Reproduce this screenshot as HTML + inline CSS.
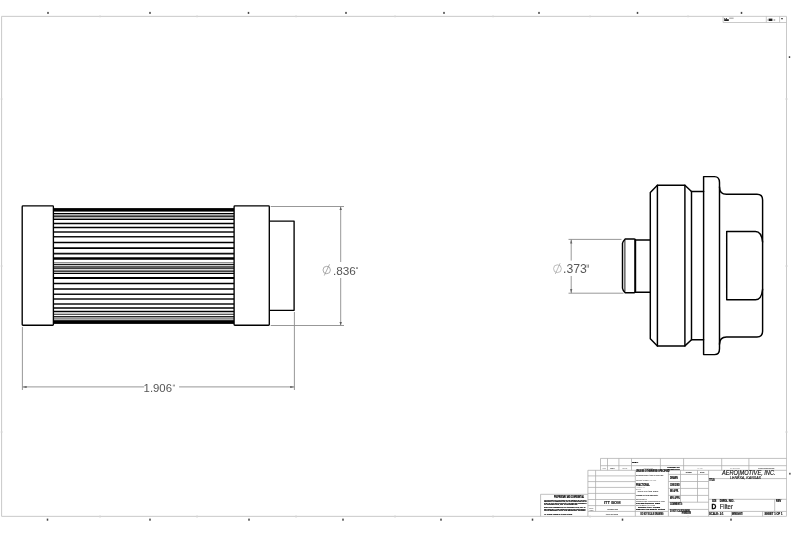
<!DOCTYPE html>
<html><head><meta charset="utf-8"><title>Filter drawing</title>
<style>
html,body{margin:0;padding:0;background:#fff;}
body{width:800px;height:534px;overflow:hidden;font-family:"Liberation Sans",sans-serif;}
svg{display:block;position:absolute;left:0;top:0;filter:grayscale(1);}
text{font-family:"Liberation Sans",sans-serif;}
</style></head><body>
<svg width="800" height="534" viewBox="0 0 800 534">
<rect x="0" y="0" width="800" height="534" fill="#ffffff"/>
<g opacity="0.999">

<g fill="none" stroke="#c6c6c6" stroke-width="0.95">
<path d="M1.6 516.35 V16.35 H786.5 V516.35 Z"/>
</g>
<g stroke="#d8d8d8" stroke-width="0.8">
<line x1="100" y1="15" x2="100" y2="17.5"/>
<line x1="100" y1="515" x2="100" y2="518"/>
<line x1="197" y1="15" x2="197" y2="17.5"/>
<line x1="197" y1="515" x2="197" y2="518"/>
<line x1="296" y1="15" x2="296" y2="17.5"/>
<line x1="296" y1="515" x2="296" y2="518"/>
<line x1="395" y1="15" x2="395" y2="17.5"/>
<line x1="395" y1="515" x2="395" y2="518"/>
<line x1="493" y1="15" x2="493" y2="17.5"/>
<line x1="493" y1="515" x2="493" y2="518"/>
<line x1="590" y1="15" x2="590" y2="17.5"/>
<line x1="590" y1="515" x2="590" y2="518"/>
<line x1="688" y1="15" x2="688" y2="17.5"/>
<line x1="688" y1="515" x2="688" y2="518"/>
<line x1="0.5" y1="99" x2="3" y2="99"/>
<line x1="785" y1="99" x2="788" y2="99"/>
<line x1="0.5" y1="266" x2="3" y2="266"/>
<line x1="785" y1="266" x2="788" y2="266"/>
<line x1="0.5" y1="432" x2="3" y2="432"/>
<line x1="785" y1="432" x2="788" y2="432"/>
</g>
<g fill="#444">
<rect x="47.25" y="11.9" width="1.5" height="2.0"/>
<rect x="149.25" y="11.9" width="1.5" height="2.0"/>
<rect x="247.75" y="11.9" width="1.5" height="2.0"/>
<rect x="345.25" y="11.9" width="1.5" height="2.0"/>
<rect x="443.25" y="11.9" width="1.5" height="2.0"/>
<rect x="538.25" y="11.9" width="1.5" height="2.0"/>
<rect x="636.75" y="11.9" width="1.5" height="2.0"/>
<rect x="740.75" y="11.9" width="1.5" height="2.0"/>
<rect x="46.75" y="518.6" width="1.5" height="2.1"/>
<rect x="149.25" y="518.6" width="1.5" height="2.1"/>
<rect x="248.25" y="518.6" width="1.5" height="2.1"/>
<rect x="342.25" y="518.6" width="1.5" height="2.1"/>
<rect x="440.25" y="518.6" width="1.5" height="2.1"/>
<rect x="531.75" y="518.6" width="1.5" height="2.1"/>
<rect x="621.75" y="518.6" width="1.5" height="2.1"/>
<rect x="730.25" y="518.6" width="1.5" height="2.1"/>
<rect x="788.8" y="56.2" width="1.4" height="1.8"/>
<rect x="789.2" y="472.8" width="1.4" height="1.8"/>
</g>
<g fill="none" stroke="#bdbdbd" stroke-width="0.8">
<path d="M723.1 16.3 V22.5 H786.5 M766.3 16.3 V22.5 M779.6 16.3 V22.5"/>
</g>
<g fill="#222"><rect x="724.2" y="19.2" width="4.6" height="1.8"/><rect x="724.4" y="18" width="0.8" height="1.4"/><rect x="726.2" y="18" width="0.8" height="1.4"/><rect x="768.6" y="18.6" width="3.8" height="2.4"/><rect x="781" y="18.3" width="2" height="0.9"/></g>
<g fill="#aaa"><rect x="729.2" y="17.6" width="4.4" height="1.2"/><rect x="767.4" y="19.4" width="1" height="1.2"/><rect x="773.6" y="19.2" width="1.6" height="1.6"/></g>
<g>
<rect x="53.4" y="213.6" width="180.7" height="2.6" fill="#ececec"/>
<rect x="53.4" y="216.2" width="180.7" height="3.2" fill="#bcbcbc"/>
<rect x="53.4" y="265.7" width="180.7" height="2.8" fill="#606060"/>
<rect x="53.4" y="318.2" width="180.7" height="2.2" fill="#b0b0b0"/>
<rect x="53.4" y="208.1" width="180.7" height="3.5" fill="#000"/>
<rect x="53.4" y="320.2" width="180.7" height="3.7" fill="#000"/>
<line x1="53.4" y1="213.6" x2="234.1" y2="213.6" stroke="#000" stroke-width="1.2"/>
<line x1="53.4" y1="216.2" x2="234.1" y2="216.2" stroke="#000" stroke-width="1.2"/>
<line x1="53.4" y1="219.4" x2="234.1" y2="219.4" stroke="#000" stroke-width="1.4"/>
<line x1="53.4" y1="223.5" x2="234.1" y2="223.5" stroke="#000" stroke-width="1.5"/>
<line x1="53.4" y1="227.6" x2="234.1" y2="227.6" stroke="#000" stroke-width="1.5"/>
<line x1="53.4" y1="231.9" x2="234.1" y2="231.9" stroke="#111" stroke-width="1.5"/>
<line x1="53.4" y1="236.8" x2="234.1" y2="236.8" stroke="#111" stroke-width="1.5"/>
<line x1="53.4" y1="242.6" x2="234.1" y2="242.6" stroke="#000" stroke-width="1.5"/>
<line x1="53.4" y1="248.1" x2="234.1" y2="248.1" stroke="#000" stroke-width="1.6"/>
<line x1="53.4" y1="253.7" x2="234.1" y2="253.7" stroke="#111" stroke-width="1.8"/>
<line x1="53.4" y1="258.5" x2="234.1" y2="258.5" stroke="#000" stroke-width="2.4"/>
<line x1="53.4" y1="262.8" x2="234.1" y2="262.8" stroke="#555" stroke-width="0.9"/>
<line x1="53.4" y1="264.5" x2="234.1" y2="264.5" stroke="#000" stroke-width="0.9"/>
<line x1="53.4" y1="268.7" x2="234.1" y2="268.7" stroke="#000" stroke-width="0.8"/>
<line x1="53.4" y1="271.2" x2="234.1" y2="271.2" stroke="#000" stroke-width="1.3"/>
<line x1="53.4" y1="273.3" x2="234.1" y2="273.3" stroke="#000" stroke-width="1.3"/>
<line x1="53.4" y1="278.0" x2="234.1" y2="278.0" stroke="#000" stroke-width="1.9"/>
<line x1="53.4" y1="283.5" x2="234.1" y2="283.5" stroke="#000" stroke-width="1.5"/>
<line x1="53.4" y1="289.1" x2="234.1" y2="289.1" stroke="#000" stroke-width="1.5"/>
<line x1="53.4" y1="294.2" x2="234.1" y2="294.2" stroke="#111" stroke-width="1.5"/>
<line x1="53.4" y1="298.9" x2="234.1" y2="298.9" stroke="#111" stroke-width="1.5"/>
<line x1="53.4" y1="303.9" x2="234.1" y2="303.9" stroke="#111" stroke-width="1.5"/>
<line x1="53.4" y1="308.0" x2="234.1" y2="308.0" stroke="#000" stroke-width="1.5"/>
<line x1="53.4" y1="311.5" x2="234.1" y2="311.5" stroke="#000" stroke-width="1.3"/>
<line x1="53.4" y1="314.3" x2="234.1" y2="314.3" stroke="#222" stroke-width="1.1"/>
<line x1="53.4" y1="316.5" x2="234.1" y2="316.5" stroke="#222" stroke-width="1.0"/>
<line x1="53.4" y1="317.9" x2="234.1" y2="317.9" stroke="#333" stroke-width="0.8"/>
</g>
<g fill="#fff" stroke="#000" stroke-width="1.35" stroke-linejoin="round">
<path d="M269.3 221.1 H294.1 V310.3 H269.3" fill="none"/>
<rect x="22.2" y="205.9" width="31.2" height="119.3" rx="0.8"/>
<rect x="234.1" y="205.9" width="35.2" height="119.3" rx="0.8"/>
</g>
<g fill="none" stroke="#8c8c8c" stroke-width="0.9">
<line x1="270.7" y1="206.5" x2="344" y2="206.5"/>
<line x1="270.7" y1="325.5" x2="344" y2="325.5"/>
<line x1="340.7" y1="206.5" x2="340.7" y2="262"/>
<line x1="340.7" y1="278" x2="340.7" y2="325.5"/>
<line x1="22.4" y1="327" x2="22.4" y2="390"/>
<line x1="294.4" y1="312" x2="294.4" y2="390"/>
<line x1="22.4" y1="386.9" x2="144.2" y2="386.9"/>
<line x1="179.1" y1="386.9" x2="294.4" y2="386.9"/>
</g>
<g fill="#5a5a5a" stroke="none">
<path d="M340.7 206.8 l-1.2 3.2 h2.4z"/>
<path d="M340.7 325.2 l-1.2 -3.2 h2.4z"/>
<path d="M22.4 387 l4.2 -1.1 v2.2z"/>
<path d="M294.4 387 l-4.2 -1.1 v2.2z"/>
</g>
<g fill="#555" font-size="11">
<text x="333" y="274.8" textLength="22.9" lengthAdjust="spacingAndGlyphs">.836</text>
<text x="143.6" y="391.9" textLength="28.4" lengthAdjust="spacingAndGlyphs">1.906</text>
</g>
<g fill="none" stroke="#8a8a8a" stroke-width="0.7">
<circle cx="326.7" cy="270" r="3.7"/><line x1="324.3" y1="275.5" x2="329.5" y2="264.3"/>
</g>
<g fill="#555"><rect x="356.2" y="267.2" width="0.6" height="1.8"/><rect x="357.3" y="267.2" width="0.6" height="1.8"/><rect x="172.9" y="384.6" width="0.6" height="1.8"/><rect x="174.0" y="384.6" width="0.6" height="1.8"/></g>
<g fill="none" stroke="#000" stroke-width="1.45" stroke-linejoin="round" stroke-linecap="round">
<path d="M650.3 192.5 L657.4 185.3 H684.9 L691.5 191.5 H703.6 V176.6 H714.5 Q719.5 176.6 719.5 182.5 V187 Q719.5 194.3 726.5 194.3 H757 Q762.6 194.3 762.6 200 V331.2 Q762.6 336.9 757 336.9 H726.5 Q719.5 336.9 719.5 344.2 V348.7 Q719.5 354.6 714.5 354.6 H703.6 V339.7 H691.5 L684.9 345.9 H657.4 L650.3 338.7 Z"/>
<line x1="657.4" y1="185.3" x2="657.4" y2="345.9"/>
<line x1="684.9" y1="185.3" x2="684.9" y2="345.9"/>
<line x1="691.5" y1="191.5" x2="691.5" y2="339.7"/>
<line x1="703.6" y1="191.5" x2="703.6" y2="339.7"/>
<line x1="719.5" y1="187" x2="719.5" y2="344.2"/>
<path d="M762.6 242 Q761.5 231.4 755.5 231.4 H726.7 V299.8 H755.5 Q761.5 299.8 762.6 289.2"/>
<path d="M650.3 239.9 H635.3 M650.3 292.2 H635.3"/>
<path d="M622.5 243.4 Q622.6 241.6 625.2 238.9 H634.3 Q635.4 238.9 635.4 240 V291.6 Q635.4 292.7 634.3 292.7 H625.2 Q622.6 290 622.5 288.2 Z"/>
</g>
<line x1="624.9" y1="240" x2="624.9" y2="291.6" stroke="#000" stroke-width="0.9"/>
<line x1="635.2" y1="239.5" x2="635.2" y2="292.1" stroke="#000" stroke-width="1.8"/>
<g fill="none" stroke="#8c8c8c" stroke-width="0.9">
<line x1="568.5" y1="239.4" x2="621.5" y2="239.4"/>
<line x1="568.5" y1="293.2" x2="623.5" y2="293.2"/>
<line x1="571.2" y1="239.4" x2="571.2" y2="260.6"/>
<line x1="571.2" y1="276" x2="571.2" y2="293.2"/>
</g>
<g fill="#666"><path d="M571.2 239.4 l-1.1 4.2 h2.2z"/><path d="M571.2 293.2 l-1.1 -4.2 h2.2z"/></g>
<text x="563.0" y="273.0" font-size="12.2" fill="#585858">.373</text>
<g fill="#666"><rect x="586.7" y="264.5" width="0.7" height="3.2"/><rect x="588.0" y="264.5" width="0.7" height="3.2"/></g>
<g fill="none" stroke="#a0a0a0" stroke-width="0.7"><circle cx="557.45" cy="268.7" r="3.9"/><line x1="555.3" y1="274" x2="560.1" y2="263.2"/></g><g fill="none" stroke="#ababab" stroke-width="0.75">
<path d="M600.5 470.3 V458.4 H786.5"/>
<line x1="600.5" y1="465.7" x2="786.5" y2="465.7"/>
<line x1="587.9" y1="470.3" x2="786.5" y2="470.3"/>
<line x1="607.5" y1="458.4" x2="607.5" y2="470.3"/>
<line x1="618.9" y1="458.4" x2="618.9" y2="470.3"/>
<line x1="631.5" y1="458.4" x2="631.5" y2="470.3"/>
<line x1="660.4" y1="458.4" x2="660.4" y2="470.3"/>
<line x1="683.6" y1="458.4" x2="683.6" y2="470.3"/>
<line x1="721.7" y1="458.4" x2="721.7" y2="470.3"/>
<line x1="748.9" y1="458.4" x2="748.9" y2="470.3"/>
<path d="M587.9 470.3 V516.3"/>
<line x1="595.6" y1="470.3" x2="595.6" y2="511.3"/>
<line x1="635.3" y1="470.3" x2="635.3" y2="516.3"/>
<line x1="587.9" y1="475.9" x2="635.3" y2="475.9"/>
<line x1="587.9" y1="481.6" x2="635.3" y2="481.6"/>
<line x1="587.9" y1="487.4" x2="635.3" y2="487.4"/>
<line x1="587.9" y1="493.4" x2="635.3" y2="493.4"/>
<line x1="587.9" y1="499.5" x2="635.3" y2="499.5"/>
<line x1="587.9" y1="505.6" x2="635.3" y2="505.6"/>
<line x1="587.9" y1="511.4" x2="668.4" y2="511.4"/>
<path d="M540.6 516.3 V494.3 H587.9"/>
<line x1="668.4" y1="470.3" x2="668.4" y2="516.3"/>
<line x1="680.5" y1="470.3" x2="680.5" y2="502.2"/>
<line x1="697.5" y1="470.3" x2="697.5" y2="502.2"/>
<line x1="708.6" y1="470.3" x2="708.6" y2="516.3"/>
<line x1="668.4" y1="474.4" x2="708.6" y2="474.4"/>
<line x1="668.4" y1="481.5" x2="708.6" y2="481.5"/>
<line x1="668.4" y1="488.4" x2="708.6" y2="488.4"/>
<line x1="668.4" y1="495.4" x2="708.6" y2="495.4"/>
<line x1="668.4" y1="502.2" x2="708.6" y2="502.2"/>
<line x1="668.4" y1="509.4" x2="708.6" y2="509.4"/>
<line x1="708.6" y1="478.6" x2="786.5" y2="478.6"/>
<line x1="708.6" y1="499.3" x2="786.5" y2="499.3"/>
<line x1="708.6" y1="511.4" x2="786.5" y2="511.4"/>
<line x1="774.7" y1="499.3" x2="774.7" y2="511.4"/>
<line x1="731.5" y1="511.4" x2="731.5" y2="516.3"/>
<line x1="762.6" y1="511.4" x2="762.6" y2="516.3"/>
</g>
<text x="722.0" y="474.7" font-size="6.5" fill="#111" stroke="#111" stroke-width="0.15" textLength="53.6" lengthAdjust="spacingAndGlyphs" font-style="italic">AERO|MOTIVE, INC.</text>
<text x="730.0" y="478.5" font-size="3.0" fill="#222" stroke="#222" stroke-width="0.1" textLength="31" lengthAdjust="spacingAndGlyphs" font-style="italic">LENEXA, KANSAS</text>
<text x="709.2" y="480.9" font-size="2.8" fill="#111" stroke="#111" stroke-width="0.18" textLength="5.8" lengthAdjust="spacingAndGlyphs" font-weight="bold">TITLE:</text>
<text x="711.4" y="508.7" font-size="7.3" fill="#000" stroke="#000" stroke-width="0.3" textLength="4.8" lengthAdjust="spacingAndGlyphs" font-weight="bold">D</text>
<text x="719.7" y="508.7" font-size="6.4" fill="#111" stroke="#111" stroke-width="0.12" textLength="13.2" lengthAdjust="spacingAndGlyphs">Filter</text>
<text x="712.0" y="502.2" font-size="2.9" fill="#111" stroke="#111" stroke-width="0.18" textLength="4.4" lengthAdjust="spacingAndGlyphs" font-weight="bold">SIZE</text>
<text x="719.7" y="502.2" font-size="2.9" fill="#111" stroke="#111" stroke-width="0.18" textLength="14.6" lengthAdjust="spacingAndGlyphs" font-weight="bold">DWG.  NO.</text>
<text x="776.1" y="502.2" font-size="2.9" fill="#111" stroke="#111" stroke-width="0.18" textLength="5.2" lengthAdjust="spacingAndGlyphs" font-weight="bold">REV</text>
<text x="708.9" y="514.9" font-size="2.8" fill="#111" stroke="#111" stroke-width="0.18" textLength="14.7" lengthAdjust="spacingAndGlyphs" font-weight="bold">SCALE: 2:1</text>
<text x="732.1" y="514.9" font-size="2.8" fill="#111" stroke="#111" stroke-width="0.18" textLength="11.1" lengthAdjust="spacingAndGlyphs" font-weight="bold">WEIGHT:</text>
<text x="764.6" y="514.9" font-size="2.8" fill="#111" stroke="#111" stroke-width="0.18" textLength="17.8" lengthAdjust="spacingAndGlyphs" font-weight="bold">SHEET 1 OF 1</text>
<text x="685.7" y="472.7" font-size="2.3" fill="#333" stroke="#333" stroke-width="0.1" textLength="5.9" lengthAdjust="spacingAndGlyphs" font-weight="bold">NAME</text>
<text x="700" y="472.7" font-size="2.3" fill="#333" stroke="#333" stroke-width="0.1" textLength="4.2" lengthAdjust="spacingAndGlyphs" font-weight="bold">DATE</text>
<text x="670" y="478.7" font-size="2.9" fill="#111" stroke="#111" stroke-width="0.18" textLength="7.8" lengthAdjust="spacingAndGlyphs" font-weight="bold">DRAWN</text>
<text x="670" y="485.9" font-size="2.9" fill="#111" stroke="#111" stroke-width="0.18" textLength="9.8" lengthAdjust="spacingAndGlyphs" font-weight="bold">CHECKED</text>
<text x="670" y="492.0" font-size="2.9" fill="#111" stroke="#111" stroke-width="0.18" textLength="8.5" lengthAdjust="spacingAndGlyphs" font-weight="bold">ENG APPR.</text>
<text x="670" y="499.2" font-size="2.9" fill="#111" stroke="#111" stroke-width="0.18" textLength="10" lengthAdjust="spacingAndGlyphs" font-weight="bold">MFG APPR.</text>
<text x="670" y="504.7" font-size="2.9" fill="#111" stroke="#111" stroke-width="0.18" textLength="12.4" lengthAdjust="spacingAndGlyphs" font-weight="bold">COMMENTS:</text>
<text x="670" y="511.5" font-size="2.6" fill="#222" stroke="#222" stroke-width="0.18" textLength="20" lengthAdjust="spacingAndGlyphs" font-weight="bold">DO NOT SCALE DRAWING</text>
<text x="681.8" y="513.6" font-size="2.6" fill="#222" stroke="#222" stroke-width="0.18" textLength="9.2" lengthAdjust="spacingAndGlyphs" font-weight="bold">FINISH</text>
<text x="667.4" y="468.2" font-size="1.9" fill="#222" stroke="#222" stroke-width="0.18" textLength="12.4" lengthAdjust="spacingAndGlyphs" font-weight="bold">INTERPRET GEO</text>
<text x="667.4" y="469.9" font-size="1.9" fill="#222" stroke="#222" stroke-width="0.18" textLength="12.4" lengthAdjust="spacingAndGlyphs" font-weight="bold">TOLERANCING</text>
<text x="632" y="463.4" font-size="2.5" fill="#111" stroke="#111" stroke-width="0.18" textLength="6.2" lengthAdjust="spacingAndGlyphs" font-weight="bold">REV</text>
<text x="610.3" y="468.9" font-size="1.8" fill="#444" stroke="#444" stroke-width="0.05" textLength="4.5" lengthAdjust="spacingAndGlyphs" font-weight="bold">REV</text>
<text x="602.4" y="468.9" font-size="1.5" fill="#777" textLength="3.4" lengthAdjust="spacingAndGlyphs">ZONE</text>
<text x="622.4" y="468.9" font-size="1.8" fill="#777" textLength="5" lengthAdjust="spacingAndGlyphs">ECO</text>
<text x="643.7" y="468.9" font-size="1.8" fill="#888" textLength="9.3" lengthAdjust="spacingAndGlyphs">DESCRIPTION</text>
<text x="697.5" y="468.9" font-size="1.8" fill="#999" textLength="5.2" lengthAdjust="spacingAndGlyphs">DATE</text>
<text x="730" y="468.9" font-size="1.8" fill="#888" textLength="10" lengthAdjust="spacingAndGlyphs">CHECKED</text>
<text x="758.3" y="468.9" font-size="1.8" fill="#555" stroke="#555" stroke-width="0.05" textLength="16.4" lengthAdjust="spacingAndGlyphs" font-weight="bold">ENGINEERING</text>
<text x="636" y="472.3" font-size="2.8" fill="#111" stroke="#111" stroke-width="0.18" textLength="34" lengthAdjust="spacingAndGlyphs" font-weight="bold">UNLESS OTHERWISE SPECIFIED:</text>
<text x="636" y="476.4" font-size="2.0" fill="#555" stroke="#555" stroke-width="0.08" textLength="27.4" lengthAdjust="spacingAndGlyphs">DIMENSIONS ARE IN INCHES</text>
<text x="636" y="480.6" font-size="2.0" fill="#777" stroke="#777" stroke-width="0.05" textLength="20.2" lengthAdjust="spacingAndGlyphs">TOLERANCES:  XX XXX</text>
<text x="636" y="485.8" font-size="3.0" fill="#111" stroke="#111" stroke-width="0.18" textLength="13.7" lengthAdjust="spacingAndGlyphs" font-weight="bold">FRACTIONAL</text>
<text x="636" y="487.5" font-size="1.9" fill="#888" textLength="9" lengthAdjust="spacingAndGlyphs">ANGULAR:</text>
<text x="636" y="489.5" font-size="1.9" fill="#888" textLength="5" lengthAdjust="spacingAndGlyphs">BEND</text>
<text x="637.6" y="492.4" font-size="1.9" fill="#555" stroke="#555" stroke-width="0.08" textLength="20.6" lengthAdjust="spacingAndGlyphs">TWO    PLACE    DEC</text>
<text x="636" y="496.3" font-size="1.9" fill="#333" stroke="#333" stroke-width="0.08" textLength="22.2" lengthAdjust="spacingAndGlyphs" font-weight="bold">THREE PLACE DECIMAL</text>
<text x="636" y="500.3" font-size="1.9" fill="#555" stroke="#555" stroke-width="0.05" textLength="11" lengthAdjust="spacingAndGlyphs" font-weight="bold">MATERIAL</text>
<text x="636" y="502.2" font-size="1.9" fill="#666" stroke="#666" stroke-width="0.08" textLength="29" lengthAdjust="spacingAndGlyphs">INTERPRET GEOMETRIC PER</text>
<text x="636" y="503.9" font-size="1.9" fill="#222" stroke="#222" stroke-width="0.18" textLength="24" lengthAdjust="spacingAndGlyphs" font-weight="bold">TOLERANCING PER</text>
<text x="636" y="506.2" font-size="1.9" fill="#666" stroke="#666" stroke-width="0.08" textLength="19" lengthAdjust="spacingAndGlyphs">MATERIAL FIN</text>
<text x="638" y="508.1" font-size="1.9" fill="#222" stroke="#222" stroke-width="0.18" textLength="22" lengthAdjust="spacingAndGlyphs" font-weight="bold">FINISH  ALL OVER</text>
<text x="636" y="509.8" font-size="1.9" fill="#222" stroke="#222" stroke-width="0.18" textLength="29" lengthAdjust="spacingAndGlyphs" font-weight="bold">DEBURR AND BREAK SHARP</text>
<text x="640.5" y="515.3" font-size="2.6" fill="#222" stroke="#222" stroke-width="0.18" textLength="22.9" lengthAdjust="spacingAndGlyphs" font-weight="bold">DO NOT SCALE DRAWING</text>
<text x="604" y="503.5" font-size="3.8" fill="#111" stroke="#111" stroke-width="0.1" textLength="16.6" lengthAdjust="spacingAndGlyphs" font-weight="bold">ITT BOM</text>
<text x="589.3" y="508.6" font-size="1.8" fill="#555" textLength="4" lengthAdjust="spacingAndGlyphs" font-weight="bold">NEXT</text>
<text x="589.3" y="510.9" font-size="1.8" fill="#444" textLength="4.4" lengthAdjust="spacingAndGlyphs" font-weight="bold">ASSY</text>
<text x="607.5" y="510.2" font-size="2.0" fill="#333" stroke="#333" stroke-width="0.05" textLength="10.5" lengthAdjust="spacingAndGlyphs" font-weight="bold">USED ON</text>
<text x="605.8" y="515.3" font-size="2.0" fill="#333" stroke="#333" stroke-width="0.05" textLength="12.2" lengthAdjust="spacingAndGlyphs" font-weight="bold">APPLICATION</text>
<text x="554" y="497.6" font-size="3.2" fill="#000" stroke="#000" stroke-width="0.2" textLength="30" lengthAdjust="spacingAndGlyphs" font-weight="bold">PROPRIETARY AND CONFIDENTIAL</text>
<text x="544" y="500.9" font-size="2.4" fill="#000" stroke="#000" stroke-width="0.15" textLength="42.5" lengthAdjust="spacingAndGlyphs" font-weight="bold">THE INFORMATION CONTAINED IN THIS DRAWING IS THE SOLE</text>
<text x="544" y="502.4" font-size="2.4" fill="#000" stroke="#000" stroke-width="0.15" textLength="42.5" lengthAdjust="spacingAndGlyphs" font-weight="bold">PROPERTY OF AEROMOTIVE, INC. ANY REPRODUCTION IN</text>
<text x="544" y="503.9" font-size="2.4" fill="#000" stroke="#000" stroke-width="0.15" textLength="42.5" lengthAdjust="spacingAndGlyphs" font-weight="bold">PART OR AS A WHOLE WITHOUT THE WRITTEN PERMISSION</text>
<text x="544" y="505.3" font-size="2.4" fill="#000" stroke="#000" stroke-width="0.15" textLength="33.7" lengthAdjust="spacingAndGlyphs" font-weight="bold">OF AEROMOTIVE, INC. IS PROHIBITED.</text>
<text x="544" y="507.8" font-size="2.4" fill="#000" stroke="#000" stroke-width="0.15" textLength="41.5" lengthAdjust="spacingAndGlyphs" font-weight="bold">WRITTEN PERMISSION OF AEROMOTIVE, INC. IS</text>
<text x="544" y="509.5" font-size="2.4" fill="#000" stroke="#000" stroke-width="0.15" textLength="41.5" lengthAdjust="spacingAndGlyphs" font-weight="bold">PROHIBITED. THIS DRAWING MUST BE RETURNED</text>
<text x="544" y="511.3" font-size="2.4" fill="#000" stroke="#000" stroke-width="0.15" textLength="41.5" lengthAdjust="spacingAndGlyphs" font-weight="bold">UPON REQUEST AND THE RECIPIENT AGREES</text>
<text x="544" y="514.6" font-size="2.4" fill="#000" stroke="#000" stroke-width="0.15" textLength="28.5" lengthAdjust="spacingAndGlyphs" font-weight="bold">TO THESE TERMS BY ACCEPTANCE.</text></g></svg></body></html>
